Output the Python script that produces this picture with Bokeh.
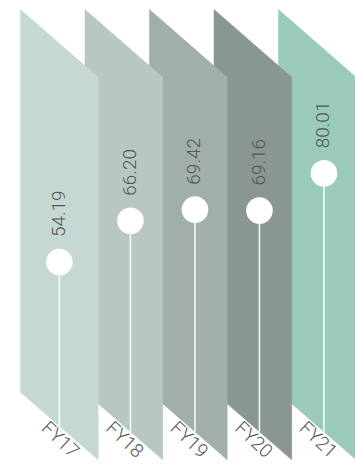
import math
from bokeh.plotting import figure
from bokeh.models import Range1d, ColumnDataSource
from bokeh.core.properties import value
from bokeh.embed import file_html
from bokeh.resources import INLINE

# ---- data ----
categories = ["FY17", "FY18", "FY19", "FY20", "FY21"]
values = [54.19, 66.20, 69.42, 69.16, 80.01]
value_labels = ["54.19", "66.20", "69.42", "69.16", "80.01"]
band_colors = ["#c6d8d2", "#b9c7c3", "#a1aea9", "#899790", "#9acab9"]

# ---- layout constants (x in column units, y in value units) ----
COL = 64.5                # pixels per column unit
W = 77.7 / COL            # band width in column units (bands overlap)
TOP_L, TOP_R = 127.6, 107.9
BOT_L, BOT_R = 16.3, -3.3
SLANT_ANGLE = -0.75
FONT = "Roboto Light, Roboto"

p = figure(width=355, height=464, output_backend="svg", toolbar_location=None,
           x_range=Range1d(-20 / COL, 335 / COL),
           y_range=Range1d(-4.68, 130.24),
           min_border=0, outline_line_color=None,
           background_fill_color="white", border_fill_color="white")
p.axis.visible = False
p.grid.visible = False

n = len(categories)
idx = list(range(n))

# bands: draw last first so the first one sits on top
order = list(reversed(idx))
band_src = ColumnDataSource(dict(
    xs=[[i, i + W, i + W, i] for i in order],
    ys=[[TOP_L, TOP_R, BOT_R, BOT_L] for i in order],
    color=[band_colors[i] for i in order],
))
p.patches("xs", "ys", source=band_src, fill_color="color", line_color="color",
          line_width=0.5)

# lollipops
cx = [W / 2 if i == 0 else i + W - 0.5 for i in idx]
bottoms = [BOT_L + (BOT_R - BOT_L) * (cx[i] - i) / W for i in idx]
p.segment(x0=cx, y0=bottoms, x1=cx, y1=values, line_color="white",
          line_alpha=0.9, line_width=1.6)
p.scatter(x=cx, y=values, size=26.6, marker="circle", fill_color="white",
          line_color=None)

# value labels
p.text(x=cx, y=values, text=value_labels, angle=math.pi / 2,
       text_align="left", text_baseline="middle", x_offset=-1, y_offset=-25,
       text_font=value(FONT), text_font_size="19px", text_color="#555555")

# category labels along the slanted bottom
p.text(x=[i + W / 2 for i in idx], y=[2.6] * n, text=categories,
       angle=SLANT_ANGLE, text_align="center", text_baseline="middle",
       x_offset=1,
       text_font=value(FONT), text_font_size="19px", text_color="#555555")

open("out.html", "w").write(file_html(p, INLINE))
